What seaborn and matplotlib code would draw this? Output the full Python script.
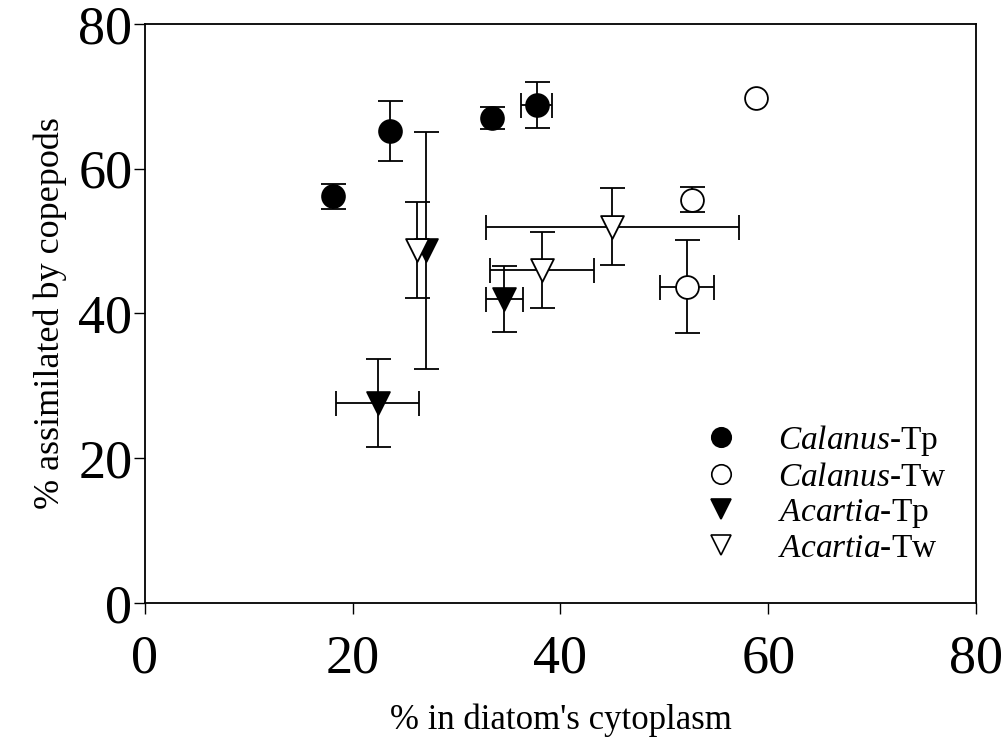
import numpy as np
import pandas as pd
import matplotlib
matplotlib.use("Agg")
import matplotlib.pyplot as plt
import seaborn as sns
from matplotlib.lines import Line2D

# ---- data ----
series_names = ["Calanus-Tp", "Calanus-Tw", "Acartia-Tp", "Acartia-Tw"]

calanus_tp_x = [18.1, 23.6, 33.4, 37.7]
calanus_tp_y = [56.2, 65.2, 67.0, 68.8]
calanus_tp_xerr = [np.nan, np.nan, np.nan, 1.5]
calanus_tp_yerr = [1.7, 4.2, 1.5, 3.2]

calanus_tw_x = [58.8, 52.7, 52.2]
calanus_tw_y = [69.8, 55.7, 43.7]
calanus_tw_xerr = [np.nan, np.nan, 2.6]
calanus_tw_yerr = [np.nan, 1.75, 6.4]

acartia_tp_x = [22.4, 27.1, 34.6]
acartia_tp_y = [27.6, 48.7, 42.0]
acartia_tp_xerr = [4.0, np.nan, 1.8]
acartia_tp_yerr = [6.1, 16.4, 4.5]

acartia_tw_x = [26.2, 38.2, 45.0]
acartia_tw_y = [48.8, 46.0, 52.0]
acartia_tw_xerr = [np.nan, 5.0, 12.2]
acartia_tw_yerr = [6.6, 5.3, 5.3]

x_ticks = [0, 20, 40, 60, 80]
y_ticks = [0, 20, 40, 60, 80]

frames = []
for name, xs, ys, xe, ye in [
    ("Calanus-Tp", calanus_tp_x, calanus_tp_y, calanus_tp_xerr, calanus_tp_yerr),
    ("Calanus-Tw", calanus_tw_x, calanus_tw_y, calanus_tw_xerr, calanus_tw_yerr),
    ("Acartia-Tp", acartia_tp_x, acartia_tp_y, acartia_tp_xerr, acartia_tp_yerr),
    ("Acartia-Tw", acartia_tw_x, acartia_tw_y, acartia_tw_xerr, acartia_tw_yerr),
]:
    frames.append(pd.DataFrame({"series": name, "x": xs, "y": ys, "xerr": xe, "yerr": ye}))
df = pd.concat(frames, ignore_index=True)

# ---- style ----
sns.set_theme(style="white")
plt.rcParams["font.family"] = ["Liberation Serif", "DejaVu Serif"]
plt.rcParams["mathtext.fontset"] = "custom"
plt.rcParams["mathtext.rm"] = "Liberation Serif"
plt.rcParams["mathtext.it"] = "Liberation Serif:italic"
plt.rcParams["text.color"] = "black"
plt.rcParams["axes.labelcolor"] = "black"

styles = {
    "Calanus-Tp": dict(marker="o", face="black"),
    "Calanus-Tw": dict(marker="o", face="white"),
    "Acartia-Tp": dict(marker="v", face="black"),
    "Acartia-Tw": dict(marker="v", face="white"),
}
labels = {
    "Calanus-Tp": r"$\it{Calanus}$-Tp",
    "Calanus-Tw": r"$\it{Calanus}$-Tw",
    "Acartia-Tp": r"$\it{Acartia}$-Tp",
    "Acartia-Tw": r"$\it{Acartia}$-Tw",
}

fig = plt.figure(figsize=(10.02, 7.48), dpi=100)
ax = fig.add_axes([0.1447, 0.1939, 0.974 - 0.1447, 0.968 - 0.1939])

# error bars
for _, r in df.iterrows():
    xe = None if np.isnan(r["xerr"]) else r["xerr"]
    ye = None if np.isnan(r["yerr"]) else r["yerr"]
    if xe is None and ye is None:
        continue
    ax.errorbar(r["x"], r["y"], xerr=xe, yerr=ye, fmt="none", ecolor="black",
                elinewidth=1.3, capsize=9, capthick=1.3, zorder=2)

# markers
for name in series_names:
    sub = df[df["series"] == name]
    st = styles[name]
    sns.scatterplot(data=sub, x="x", y="y", ax=ax, marker=st["marker"],
                    color=st["face"], edgecolor="black", linewidth=1.3,
                    s=270, zorder=3, legend=False)

ax.set_xlim(0, 80)
ax.set_ylim(0, 80)
ax.set_xticks(x_ticks)
ax.set_yticks(y_ticks)
ax.tick_params(axis="both", direction="out", length=8, width=1.0,
               labelsize=39, colors="black", bottom=True, left=True)
ax.tick_params(axis="x", pad=14)
ax.tick_params(axis="y", pad=1)
for sp in ax.spines.values():
    sp.set_visible(True)
    sp.set_color("black")
    sp.set_linewidth(1.3)

ax.set_xlabel("% in diatom's cytoplasm", fontsize=25, labelpad=14, color="black")
ax.set_ylabel("% assimilated by copepods", fontsize=26, labelpad=8, color="black")

handles = []
for name in series_names:
    st = styles[name]
    handles.append(Line2D([0], [0], linestyle="none", marker=st["marker"],
                          markerfacecolor=st["face"], markeredgecolor="black",
                          markeredgewidth=1.2, markersize=14,
                          label=labels[name]))
leg = ax.legend(handles=handles, loc="lower right", frameon=False, fontsize=24,
                handletextpad=0.7, labelspacing=0.12, borderaxespad=0.0,
                bbox_to_anchor=(0.981, 0.044))
for t in leg.get_texts():
    t.set_color("black")

fig.savefig("out.png", dpi=100)
